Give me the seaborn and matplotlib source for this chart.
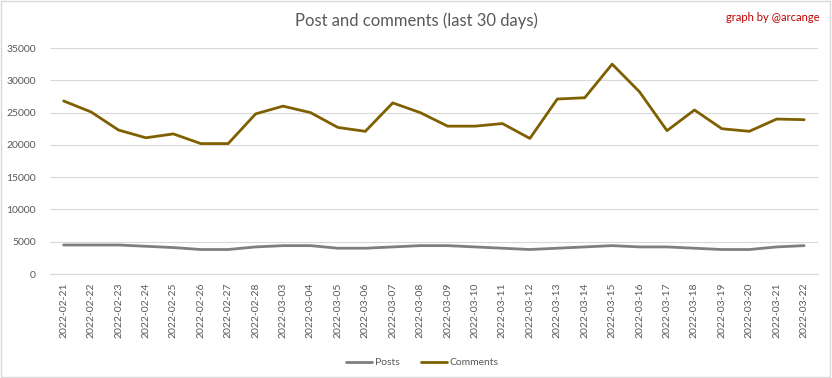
import pandas as pd
import matplotlib
matplotlib.use("Agg")
import matplotlib.pyplot as plt
import seaborn as sns

# data
dates = ['2022-02-21', '2022-02-22', '2022-02-23', '2022-02-24', '2022-02-25', '2022-02-26',
         '2022-02-27', '2022-02-28', '2022-03-03', '2022-03-04', '2022-03-05', '2022-03-06',
         '2022-03-07', '2022-03-08', '2022-03-09', '2022-03-10', '2022-03-11', '2022-03-12',
         '2022-03-13', '2022-03-14', '2022-03-15', '2022-03-16', '2022-03-17', '2022-03-18',
         '2022-03-19', '2022-03-20', '2022-03-21', '2022-03-22']
posts = [4500, 4500, 4500, 4300, 4100, 3800, 3800, 4200, 4400, 4400, 4000, 4000, 4200, 4400,
         4400, 4200, 4000, 3800, 4000, 4200, 4400, 4200, 4200, 4000, 3800, 3800, 4200, 4400]
comments = [26800, 25100, 22300, 21100, 21700, 20200, 20200, 24800, 26000, 25000, 22700, 22100,
            26500, 25000, 22900, 22900, 23300, 21000, 27100, 27300, 32500, 28200, 22200, 25400,
            22500, 22100, 24000, 23900]

df = pd.DataFrame({'date': dates * 2,
                   'value': posts + comments,
                   'serie': ['Posts'] * len(dates) + ['Comments'] * len(dates)})

sns.set_style("white")
plt.rcParams['font.family'] = ['Lato', 'DejaVu Sans']

fig = plt.figure(figsize=(8.32, 3.78), dpi=100)
ax = fig.add_axes([0.060, 0.275, 0.923, 0.598])

sns.lineplot(data=df, x='date', y='value', hue='serie', sort=False,
             palette={'Posts': '#7f7f7f', 'Comments': '#7f6000'}, linewidth=2, ax=ax)

ax.set_xlim(-0.5, len(dates) - 0.5)
ax.set_ylim(0, 35000)
ax.set_yticks(range(0, 35001, 5000))
ax.grid(axis='y', color='#d9d9d9', linewidth=0.8)
ax.set_axisbelow(True)
for s in ['top', 'right', 'left']:
    ax.spines[s].set_visible(False)
ax.spines['bottom'].set_color('#d9d9d9')
ax.tick_params(axis='x', rotation=90, labelsize=7.5, colors='#595959', length=0, pad=6)
ax.tick_params(axis='y', labelsize=7.5, colors='#595959', length=0, pad=10)
ax.set_xlabel('')
ax.set_ylabel('')

ax.legend(loc='upper center', bbox_to_anchor=(0.485, -0.33), ncol=2, frameon=False,
          fontsize=7.5, handlelength=2.5, labelcolor='#595959', handletextpad=0.3)
fig.text(0.5, 0.945, 'Post and comments (last 30 days)', ha='center', va='center',
         fontsize=12, color='#595959')
fig.text(0.985, 0.955, 'graph by @arcange', ha='right', va='center', fontsize=8, color='#c00000')

# light frame around the figure
fig.patches.append(plt.Rectangle((0.001, 0.002), 0.997, 0.995, transform=fig.transFigure,
                                 fill=False, edgecolor='#d9d9d9', linewidth=1))

plt.savefig('out.png', dpi=100)
